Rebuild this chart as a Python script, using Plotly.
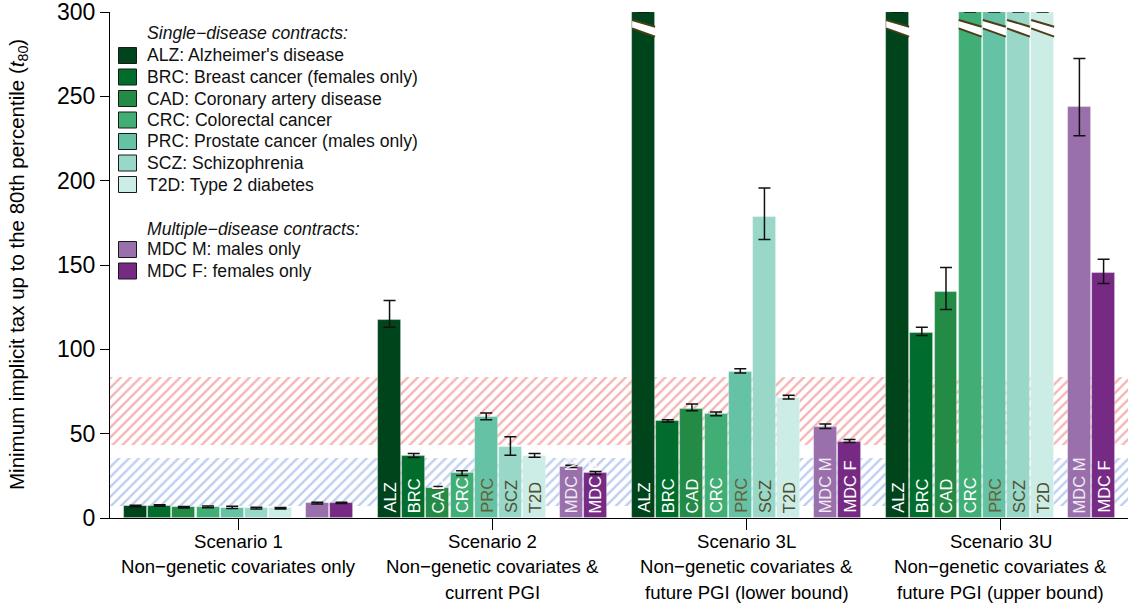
import plotly.graph_objects as go

# ---------------------------------------------------------------- data
scenario_titles = ["Scenario 1", "Scenario 2", "Scenario 3L", "Scenario 3U"]
scenario_lines = [
    ["Non−genetic covariates only"],
    ["Non−genetic covariates &", "current PGI"],
    ["Non−genetic covariates &", "future PGI (lower bound)"],
    ["Non−genetic covariates &", "future PGI (upper bound)"],
]

contract_codes = ["ALZ", "BRC", "CAD", "CRC", "PRC", "SCZ", "T2D", "MDC M", "MDC F"]
contract_names = [
    "Alzheimer's disease",
    "Breast cancer (females only)",
    "Coronary artery disease",
    "Colorectal cancer",
    "Prostate cancer (males only)",
    "Schizophrenia",
    "Type 2 diabetes",
    "males only",
    "females only",
]

# Minimum implicit tax t80 per scenario (S1, S2, S3L, S3U); None = above the 300 axis limit
t80_alz = [7.0, 117.5, None, None]
t80_brc = [7.4, 36.6, 57.4, 109.6]
t80_cad = [6.4, 17.7, 64.7, 134.1]
t80_crc = [6.6, 26.4, 61.4, None]
t80_prc = [6.2, 59.8, 86.7, None]
t80_scz = [5.8, 42.0, 178.3, None]
t80_t2d = [5.8, 36.9, 71.2, None]
t80_mdc_m = [8.8, 30.5, 54.0, 243.9]
t80_mdc_f = [9.0, 26.4, 45.3, 145.3]

# Confidence interval bounds (lower, upper) per scenario
ci_alz = [(6.6, 7.5), (113.1, 128.9), None, None]
ci_brc = [(7.0, 7.9), (35.8, 38.2), (56.9, 58.3), (108.2, 113.1)]
ci_cad = [(6.0, 6.8), (17.0, 18.7), (63.6, 67.6), (123.6, 148.5)]
ci_crc = [(6.1, 7.1), (25.2, 28.0), (60.6, 62.9), None]
ci_prc = [(5.6, 7.0), (58.3, 62.2), (86.0, 88.5), None]
ci_scz = [(5.3, 6.3), (37.2, 48.1), (165.1, 195.7), None]
ci_t2d = [(5.3, 6.2), (36.0, 38.3), (70.5, 72.8), None]
ci_mdc_m = [(8.3, 9.3), (29.9, 31.3), (53.1, 55.7), (226.7, 272.4)]
ci_mdc_f = [(8.6, 9.4), (25.8, 27.6), (44.8, 46.6), (139.0, 153.4)]

# Reference ranges shown as hatched bands (low, high)
band_red = (43.0, 83.5)
band_blue = (7.0, 35.3)

t80_series = [t80_alz, t80_brc, t80_cad, t80_crc, t80_prc, t80_scz, t80_t2d, t80_mdc_m, t80_mdc_f]
ci_series = [ci_alz, ci_brc, ci_cad, ci_crc, ci_prc, ci_scz, ci_t2d, ci_mdc_m, ci_mdc_f]

# ---------------------------------------------------------------- styling
bar_colors = ["#00441B", "#006D2C", "#238B45", "#41AE76", "#66C2A4",
              "#99D8C9", "#CCECE6", "#9970AB", "#762A83"]
label_colors = ["white", "white", "white", "white", "#66603A",
                "#4E4E30", "#4E4E30", "#F1EAF4", "white"]
FONT = "Liberation Sans, Arial, Helvetica, sans-serif"

Y_MAX = 300
GROUP_STEP = 10.51
SLOTS = [0, 1, 2, 3, 4, 5, 6, 7.52, 8.52]
BAR_WIDTH = 0.95
X_RANGE = [-1.055, 41.06]
LABELLED_SCENARIOS = [1, 2, 3]

# axis-break marks (data units at left / right edge of a bar)
BREAK_UPPER = (295.3, 291.3)
BREAK_LOWER = (290.3, 285.4)

W, H = 1128, 606
M_L, M_R, M_T, M_B = 110, 0, 12, 88
PLOT_W = W - M_L - M_R
PLOT_H = H - M_T - M_B


def px_x(px):
    return (px - M_L) / PLOT_W


def px_y(py):
    return (H - M_B - py) / PLOT_H


def bar_x(group, slot):
    return group * GROUP_STEP + SLOTS[slot]


fig = go.Figure()

# hatched reference bands (drawn first so the bars sit on top)
for (lo, hi), col in [(band_red, "#EC6A6A"), (band_blue, "#7C9EE6")]:
    fig.add_trace(go.Bar(
        x=[(X_RANGE[0] + X_RANGE[1]) / 2], y=[hi - lo], base=[lo],
        width=[X_RANGE[1] - X_RANGE[0]],
        marker=dict(color=col, line=dict(width=0),
                    pattern=dict(shape="/", fgcolor=col, bgcolor="rgba(0,0,0,0)",
                                 size=7, solidity=0.33)),
        hoverinfo="skip", showlegend=False))

shapes = []
annotations = []

for k, code in enumerate(contract_codes):
    xs, ys, err_p, err_m = [], [], [], []
    for g in range(len(scenario_titles)):
        v = t80_series[k][g]
        ci = ci_series[k][g]
        x = bar_x(g, k)
        xs.append(x)
        off_scale = v is None
        ys.append(Y_MAX if off_scale else v)
        if ci is None or off_scale:
            err_p.append(None)
            err_m.append(None)
        else:
            err_p.append(ci[1] - v)
            err_m.append(v - ci[0])
        if off_scale:
            x0, x1 = x - BAR_WIDTH / 2, x + BAR_WIDTH / 2
            shapes.append(dict(
                type="path", xref="x", yref="y",
                path=f"M{x0},{BREAK_UPPER[0]} L{x1},{BREAK_UPPER[1]} "
                     f"L{x1},{BREAK_LOWER[1]} L{x0},{BREAK_LOWER[0]} Z",
                fillcolor="white", line=dict(width=0)))
            for (ya, yb) in (BREAK_UPPER, BREAK_LOWER):
                shapes.append(dict(type="line", xref="x", yref="y",
                                   x0=x0, x1=x1, y0=ya, y1=yb,
                                   line=dict(color="#4B3D17", width=2)))
        if g in LABELLED_SCENARIOS:
            annotations.append(dict(
                x=x, y=0, xref="x", yref="y", text=code, showarrow=False,
                textangle=-90, xanchor="center", yanchor="bottom", yshift=3,
                font=dict(family=FONT, size=16.5, color=label_colors[k])))
    fig.add_trace(go.Bar(
        x=xs, y=ys, width=[BAR_WIDTH] * len(xs),
        marker=dict(color=bar_colors[k], line=dict(color="rgba(255,255,255,0.45)", width=0.8)),
        error_y=dict(type="data", symmetric=False, array=err_p, arrayminus=err_m,
                     color="#111111", thickness=1.5, width=6),
        name=code, showlegend=False, cliponaxis=True))

# legend drawn in plot-area coordinates
legend_rows = []
legend_rows.append(("header", "Single−disease contracts:", 33.5))
for k in range(7):
    legend_rows.append((k, f"{contract_codes[k]}: {contract_names[k]}", 55.5 + 21.5 * k))
legend_rows.append(("header", "Multiple−disease contracts:", 228.5))
legend_rows.append((7, f"{contract_codes[7]}: {contract_names[7]}", 249.5))
legend_rows.append((8, f"{contract_codes[8]}: {contract_names[8]}", 271.0))

LEGEND_SIZE = 17.6
for key, text, py in legend_rows:
    if key == "header":
        annotations.append(dict(
            x=px_x(145), y=px_y(py), xref="paper", yref="paper",
            text=f"<i>{text}</i>", showarrow=False, xanchor="left", yanchor="middle",
            font=dict(family=FONT, size=LEGEND_SIZE, color="#111111")))
    else:
        shapes.append(dict(
            type="rect", xref="paper", yref="paper",
            x0=px_x(118.5), x1=px_x(136.5), y0=px_y(py + 8), y1=px_y(py - 8),
            fillcolor=bar_colors[key], line=dict(color="#1a1a1a", width=1)))
        annotations.append(dict(
            x=px_x(145), y=px_y(py), xref="paper", yref="paper",
            text=text, showarrow=False, xanchor="left", yanchor="middle",
            font=dict(family=FONT, size=LEGEND_SIZE, color="#111111")))

# scenario captions under the axis
centers = [g * GROUP_STEP + (SLOTS[0] + SLOTS[-1]) / 2 for g in range(len(scenario_titles))]
line_offsets = [-23, -48.5, -74]
for g, title in enumerate(scenario_titles):
    for j, line in enumerate([title] + scenario_lines[g]):
        annotations.append(dict(
            x=centers[g], y=0, xref="x", yref="paper", text=line, showarrow=False,
            xanchor="center", yanchor="middle", yshift=line_offsets[j],
            font=dict(family=FONT, size=18.6, color="black")))

# y-axis title
annotations.append(dict(
    x=0, y=0.5, xref="paper", yref="paper", xshift=-92,
    text="Minimum implicit tax up to the 80th percentile (<i>t</i><sub>80</sub>)",
    showarrow=False, textangle=-90, xanchor="center", yanchor="middle",
    font=dict(family=FONT, size=20.5, color="black")))

fig.update_layout(
    width=W, height=H,
    margin=dict(l=M_L, r=M_R, t=M_T, b=M_B, pad=0),
    paper_bgcolor="white", plot_bgcolor="white",
    barmode="overlay", bargap=0,
    showlegend=False,
    font=dict(family=FONT, color="black"),
    shapes=shapes, annotations=annotations,
    xaxis=dict(range=X_RANGE, showgrid=False, zeroline=False, showline=True,
               linecolor="black", linewidth=1.2, ticks="outside", ticklen=11,
               tickwidth=1.2, tickcolor="black", tickvals=centers,
               showticklabels=False, fixedrange=True),
    yaxis=dict(range=[0, Y_MAX], showgrid=False, zeroline=False, showline=True,
               linecolor="black", linewidth=1.2, ticks="outside", ticklen=9,
               tickwidth=1.2, tickcolor="black", tickvals=list(range(0, 301, 50)),
               ticklabeloverflow="allow",
               tickfont=dict(family=FONT, size=23, color="black"), fixedrange=True),
)

fig.write_html("out.html")
